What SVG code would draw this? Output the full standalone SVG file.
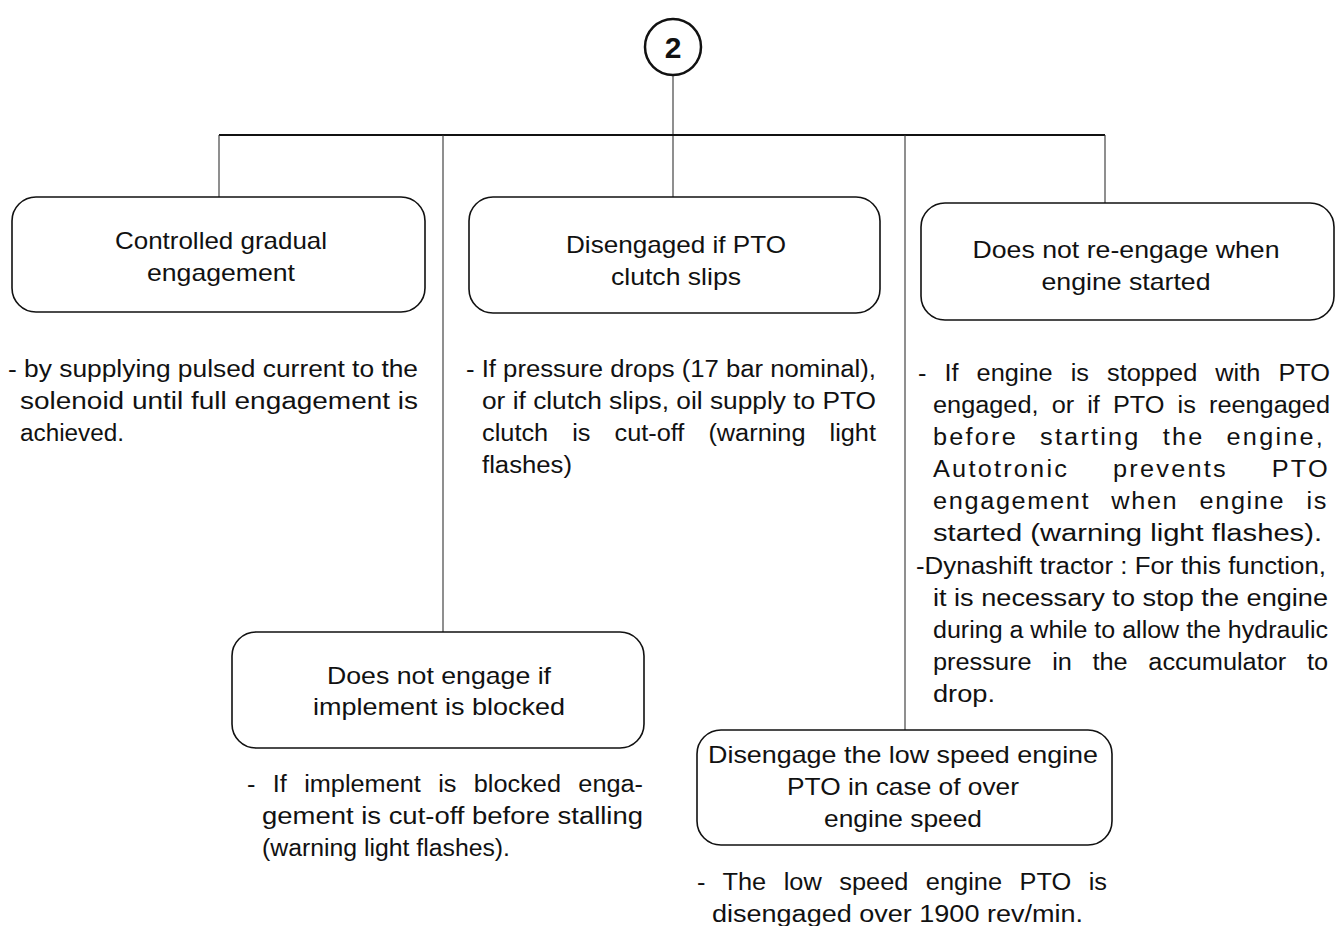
<svg xmlns="http://www.w3.org/2000/svg" width="1336" height="926" viewBox="0 0 1336 926">
<style>
text{font-family:"Liberation Sans",Arial,sans-serif;fill:#111;}
.t{font-size:24px;text-anchor:middle;}
.b{font-size:23px;}
.box{fill:#fff;stroke:#111;stroke-width:1.6;}
.c{stroke:#333;stroke-width:1.1;fill:none;}
</style>
<rect width="1336" height="926" fill="#fff"/>
<g id="connectors">
<line class="c" x1="673" y1="76" x2="673" y2="197"/>
<line x1="219" y1="135" x2="1105" y2="135" stroke="#111" stroke-width="2"/>
<line class="c" x1="219" y1="135" x2="219" y2="197"/>
<line class="c" x1="443" y1="135" x2="443" y2="632" stroke="#666"/>
<line class="c" x1="905" y1="135" x2="905" y2="730" stroke="#666"/>
<line class="c" x1="1105" y1="135" x2="1105" y2="203"/>
</g>
<g id="root">
<circle cx="673" cy="47" r="28" fill="#fff" stroke="#111" stroke-width="2.5"/>
<text x="673" y="58" font-size="30" font-weight="bold" text-anchor="middle">2</text>
</g>
<g id="n1">
<rect class="box" x="12" y="197" width="413" height="115" rx="24"/>
<text class="t" x="221" y="249" textLength="212" lengthAdjust="spacingAndGlyphs">Controlled gradual</text>
<text class="t" x="221" y="281" textLength="148" lengthAdjust="spacingAndGlyphs">engagement</text>
<text class="b" x="8" y="377" textLength="410" lengthAdjust="spacingAndGlyphs">- by supplying pulsed current to the</text>
<text class="b" x="20" y="409" textLength="398" lengthAdjust="spacingAndGlyphs">solenoid until full engagement is</text>
<text class="b" x="20" y="441" textLength="104" lengthAdjust="spacingAndGlyphs">achieved.</text>
</g>
<g id="n2">
<rect class="box" x="469" y="197" width="411" height="116" rx="24"/>
<text class="t" x="676" y="253" textLength="220" lengthAdjust="spacingAndGlyphs">Disengaged if PTO</text>
<text class="t" x="676" y="285" textLength="130" lengthAdjust="spacingAndGlyphs">clutch slips</text>
<text class="b" x="466" y="377" textLength="410" lengthAdjust="spacingAndGlyphs">- If pressure drops (17 bar nominal),</text>
<text class="b" x="482" y="409" textLength="394" lengthAdjust="spacingAndGlyphs">or if clutch slips, oil supply to PTO</text>
<text class="b" x="482" y="441" word-spacing="15.4" textLength="394" lengthAdjust="spacingAndGlyphs">clutch is cut-off (warning light</text>
<text class="b" x="482" y="473" textLength="90" lengthAdjust="spacingAndGlyphs">flashes)</text>
</g>
<g id="n3">
<rect class="box" x="921" y="203" width="413" height="117" rx="24"/>
<text class="t" x="1126" y="258" textLength="307" lengthAdjust="spacingAndGlyphs">Does not re-engage when</text>
<text class="t" x="1126" y="290" textLength="169" lengthAdjust="spacingAndGlyphs">engine started</text>
<text class="b" x="918" y="381" word-spacing="10" textLength="412" lengthAdjust="spacingAndGlyphs">- If engine is stopped with PTO</text>
<text class="b" x="933" y="413" word-spacing="5.5" textLength="397" lengthAdjust="spacingAndGlyphs">engaged, or if PTO is reengaged</text>
<text class="b" x="933" y="445" letter-spacing="2" word-spacing="11.7" textLength="392" lengthAdjust="spacingAndGlyphs">before starting the engine,</text>
<text class="b" x="933" y="477" letter-spacing="2" word-spacing="31.5" textLength="397" lengthAdjust="spacingAndGlyphs">Autotronic prevents PTO</text>
<text class="b" x="933" y="509" letter-spacing="1.5" word-spacing="11.3" textLength="395" lengthAdjust="spacingAndGlyphs">engagement when engine is</text>
<text class="b" x="933" y="541" textLength="389" lengthAdjust="spacingAndGlyphs">started (warning light flashes).</text>
<text class="b" x="916" y="574" textLength="410" lengthAdjust="spacingAndGlyphs">-Dynashift tractor : For this function,</text>
<text class="b" x="933" y="606" textLength="395" lengthAdjust="spacingAndGlyphs">it is necessary to stop the engine</text>
<text class="b" x="933" y="638" textLength="395" lengthAdjust="spacingAndGlyphs">during a while to allow the hydraulic</text>
<text class="b" x="933" y="670" word-spacing="12.4" textLength="395" lengthAdjust="spacingAndGlyphs">pressure in the accumulator to</text>
<text class="b" x="933" y="702" textLength="62" lengthAdjust="spacingAndGlyphs">drop.</text>
</g>
<g id="n4">
<rect class="box" x="232" y="632" width="412" height="116" rx="24"/>
<text class="t" x="439" y="684" textLength="224" lengthAdjust="spacingAndGlyphs">Does not engage if</text>
<text class="t" x="439" y="715" textLength="252" lengthAdjust="spacingAndGlyphs">implement is blocked</text>
<text class="b" x="247" y="792" word-spacing="9.4" textLength="396" lengthAdjust="spacingAndGlyphs">- If implement is blocked enga-</text>
<text class="b" x="262" y="824" textLength="381" lengthAdjust="spacingAndGlyphs">gement is cut-off before stalling</text>
<text class="b" x="262" y="856" textLength="248" lengthAdjust="spacingAndGlyphs">(warning light flashes).</text>
</g>
<g id="n5">
<rect class="box" x="697" y="730" width="415" height="115" rx="24"/>
<text class="t" x="903" y="763" textLength="390" lengthAdjust="spacingAndGlyphs">Disengage the low speed engine</text>
<text class="t" x="903" y="795" textLength="232" lengthAdjust="spacingAndGlyphs">PTO in case of over</text>
<text class="t" x="903" y="827" textLength="158" lengthAdjust="spacingAndGlyphs">engine speed</text>
<text class="b" x="697" y="890" word-spacing="9.5" textLength="410" lengthAdjust="spacingAndGlyphs">- The low speed engine PTO is</text>
<text class="b" x="712" y="922" textLength="371" lengthAdjust="spacingAndGlyphs">disengaged over 1900 rev/min.</text>
</g>
</svg>
